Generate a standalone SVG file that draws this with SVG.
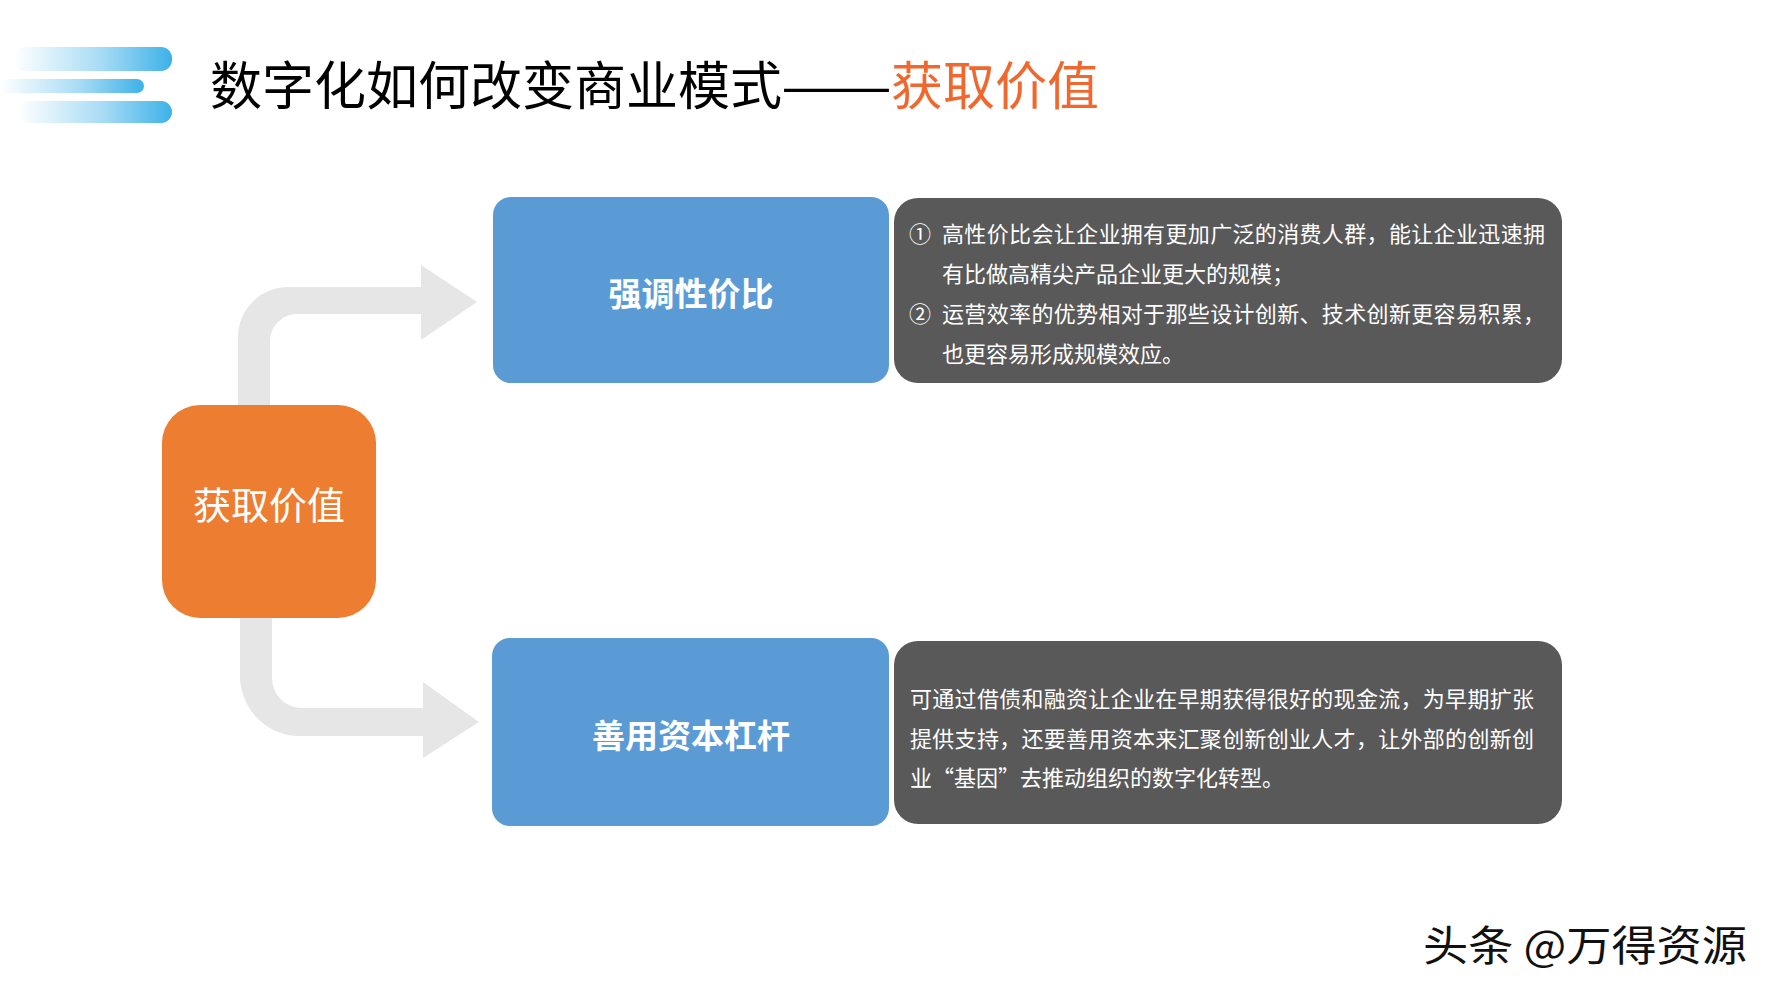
<svg xmlns="http://www.w3.org/2000/svg" width="1778" height="1000" viewBox="0 0 1778 1000">
  <defs>
    <linearGradient id="barGrad" x1="0" y1="0" x2="1" y2="0">
      <stop offset="0" stop-color="#3DB1E8" stop-opacity="0"/>
      <stop offset="0.55" stop-color="#3DB1E8" stop-opacity="0.45"/>
      <stop offset="1" stop-color="#3DB1E8" stop-opacity="1"/>
    </linearGradient>
    <style>
      .cjk { font-family: "Noto Sans CJK SC", "Noto Sans", sans-serif; }
      .blue { fill: #5B9BD5; }
      .gray { fill: #595959; }
      .conn { fill: #E6E6E6; }
      .btext { fill: #FFFFFF; font-size: 33px; font-weight: bold; text-anchor: middle; }
      .desc { fill: #FFFFFF; font-size: 22px; }
    </style>
  </defs>
  <rect x="0" y="0" width="1778" height="1000" fill="#FFFFFF"/>

  <g id="title-icon">
    <rect x="14" y="47" width="158" height="24" rx="11" fill="url(#barGrad)"/>
    <rect x="0" y="79" width="144" height="14" rx="7" fill="url(#barGrad)"/>
    <rect x="18" y="101" width="154" height="22" rx="11" fill="url(#barGrad)"/>
  </g>

  <g id="title">
    <text class="cjk" x="210" y="105" font-size="52" fill="#000000"><tspan>数字化如何改变商业模式</tspan><tspan x="781" textLength="111" lengthAdjust="spacingAndGlyphs">——</tspan><tspan x="891" fill="#F0682D">获取价值</tspan></text>
  </g>

  <g id="connectors">
    <path class="conn" d="M 238 410 L 238 337 A 50 50 0 0 1 288 287 L 421 287 L 421 265 L 477 302 L 421 340 L 421 314 L 297 314 A 27 27 0 0 0 270 341 L 270 410 Z"/>
    <path class="conn" d="M 240 612 L 240 676 A 60 60 0 0 0 300 736 L 423 736 L 423 758 L 479 722 L 423 682 L 423 708 L 302 708 A 30 30 0 0 1 272 678 L 272 612 Z"/>
  </g>

  <g id="node-root">
    <rect x="162" y="405" width="214" height="213" rx="38" fill="#ED7D31"/>
    <text class="cjk" x="269" y="519" font-size="38" fill="#FFFFFF" text-anchor="middle">获取价值</text>
  </g>

  <g id="node-price">
    <rect class="blue" x="493" y="197" width="396" height="186" rx="18"/>
    <text class="cjk btext" x="691" y="306">强调性价比</text>
  </g>

  <g id="node-price-desc">
    <rect class="gray" x="894" y="198" width="668" height="185" rx="24"/>
    <text class="cjk desc" y="242"><tspan x="909">①</tspan><tspan x="942" textLength="603">高性价比会让企业拥有更加广泛的消费人群，能让企业迅速拥</tspan></text>
    <text class="cjk desc" x="942" y="282">有比做高精尖产品企业更大的规模；</text>
    <text class="cjk desc" y="322"><tspan x="909">②</tspan><tspan x="942" textLength="603">运营效率的优势相对于那些设计创新、技术创新更容易积累，</tspan></text>
    <text class="cjk desc" x="942" y="362">也更容易形成规模效应。</text>
  </g>

  <g id="node-leverage">
    <rect class="blue" x="492" y="638" width="397" height="188" rx="18"/>
    <text class="cjk btext" x="691" y="748">善用资本杠杆</text>
  </g>

  <g id="node-leverage-desc">
    <rect class="gray" x="894" y="641" width="668" height="183" rx="24"/>
    <text class="cjk desc" x="910" y="707" textLength="624">可通过借债和融资让企业在早期获得很好的现金流，为早期扩张</text>
    <text class="cjk desc" x="910" y="747" textLength="624">提供支持，还要善用资本来汇聚创新创业人才，让外部的创新创</text>
    <text class="cjk desc" x="910" y="786">业“基因”去推动组织的数字化转型。</text>
  </g>

  <g id="watermark">
    <text class="cjk" x="1423" y="961" font-size="42" fill="#111111" textLength="324" lengthAdjust="spacingAndGlyphs">头条 @万得资源</text>
  </g>
</svg>
